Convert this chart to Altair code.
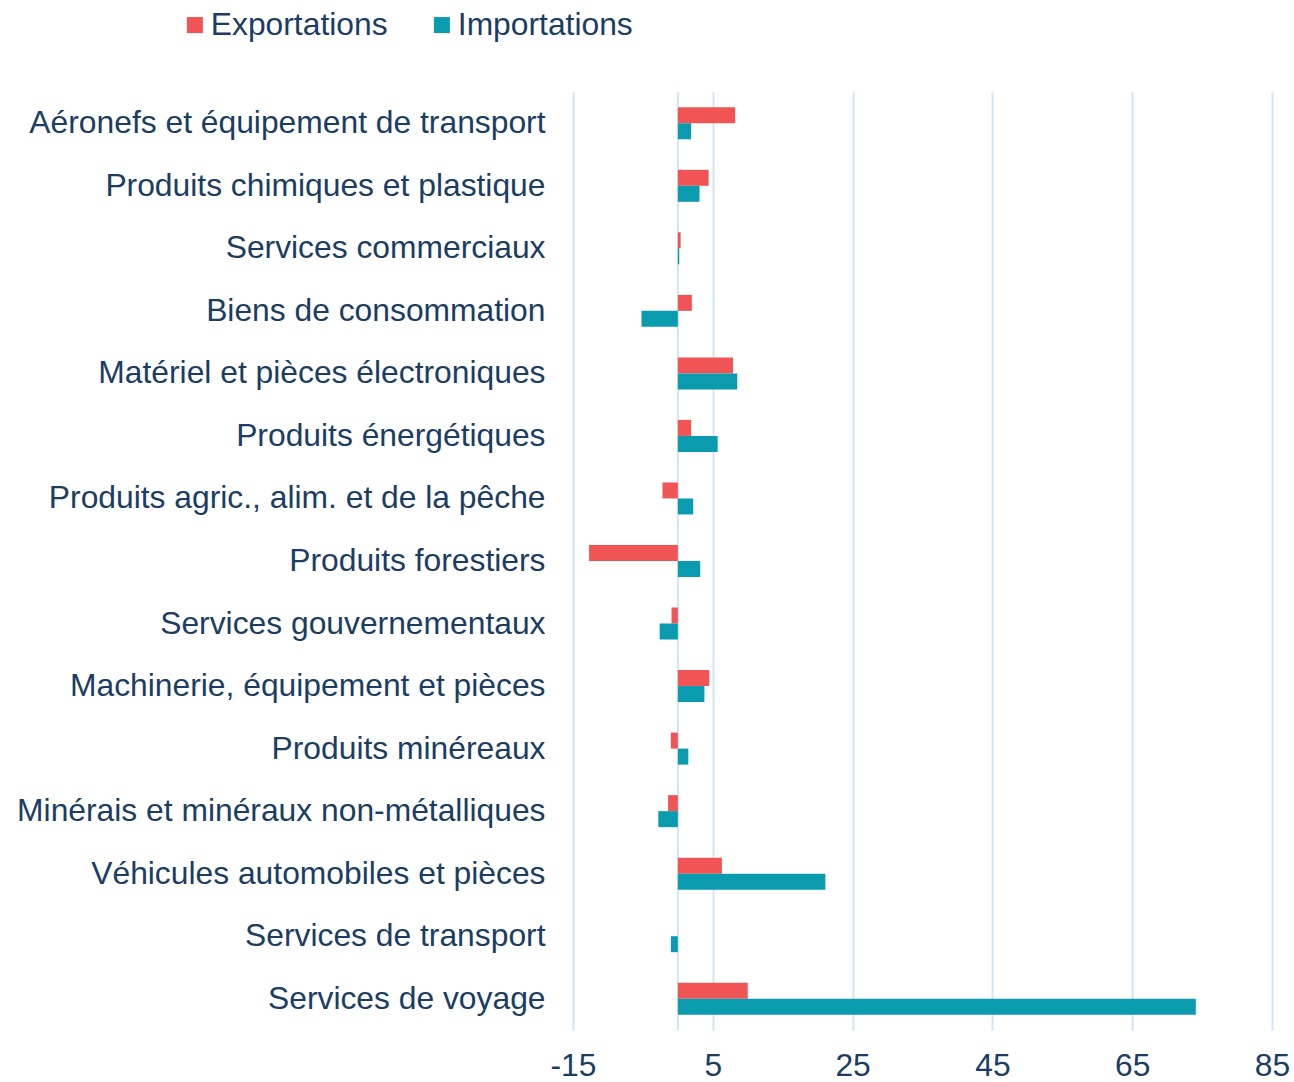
import altair as alt
import pandas as pd

categories = [
    "Aéronefs et équipement de transport",
    "Produits chimiques et plastique",
    "Services commerciaux",
    "Biens de consommation",
    "Matériel et pièces électroniques",
    "Produits énergétiques",
    "Produits agric., alim. et de la pêche",
    "Produits forestiers",
    "Services gouvernementaux",
    "Machinerie, équipement et pièces",
    "Produits minéreaux",
    "Minérais et minéraux non-métalliques",
    "Véhicules automobiles et pièces",
    "Services de transport",
    "Services de voyage",
]
exportations = [8.2, 4.4, 0.4, 2.0, 7.9, 1.9, -2.2, -12.7, -0.9, 4.5, -1.0, -1.4, 6.3, 0.0, 10.0]
importations = [1.9, 3.1, 0.2, -5.2, 8.5, 5.7, 2.2, 3.2, -2.6, 3.8, 1.5, -2.8, 21.1, -1.0, 74.1]
series = ["Exportations", "Importations"]
tick_values = [-15, 5, 25, 45, 65, 85]

rows = []
for c, e, i in zip(categories, exportations, importations):
    rows.append({"cat": c, "serie": series[0], "val": e})
    rows.append({"cat": c, "serie": series[1], "val": i})
df = pd.DataFrame(rows)

navy = "#1B3D63"
grid = "#D3E4F4"
font = "Liberation Sans"
fs = 31.8

bars = alt.Chart(df).mark_bar(size=16).encode(
    y=alt.Y("cat:N", sort=categories,
            scale=alt.Scale(paddingInner=0.488, paddingOuter=0.244),
            axis=alt.Axis(title=None, domain=False, ticks=False, grid=False, labelPadding=28,
                          labelFontSize=fs, labelColor=navy, labelFont=font,
                          labelLimit=800)),
    yOffset=alt.YOffset("serie:N", sort=series, scale=alt.Scale(paddingInner=0, paddingOuter=0)),
    x=alt.X("val:Q", scale=alt.Scale(domain=[-15, 85], nice=False, zero=False),
            axis=alt.Axis(title=None, values=tick_values, domain=False, ticks=False,
                          grid=True, gridColor=grid, gridWidth=2, labelFlush=False,
                          labelExpr="'' + datum.value",
                          labelFontSize=fs, labelColor=navy, labelFont=font,
                          labelPadding=20)),
    color=alt.Color("serie:N", sort=series,
                    scale=alt.Scale(domain=series, range=["#F05454", "#0A9BAF"]),
                    legend=alt.Legend(title=None, orient="none", legendX=-394, legendY=-83,
                                      direction="horizontal", symbolType="square",
                                      symbolSize=256, symbolStrokeWidth=0,
                                      labelFontSize=fs, labelColor=navy, labelFont=font,
                                      labelLimit=400, columnPadding=38, labelOffset=0)),
)

zero = alt.Chart(pd.DataFrame({"x": [0]})).mark_rule(color=grid, strokeWidth=2).encode(x="x:Q")

chart = alt.layer(zero, bars).properties(
    width=699, height=938,
    view=alt.ViewBackground(stroke=None, strokeWidth=0),
    autosize=alt.AutoSizeParams(type="none"),
    padding={"left": 573, "top": 92, "right": 22, "bottom": 52},
).configure_view(strokeWidth=0, stroke=None).configure(background="white")

chart.save("out.html", embed_options={"renderer": "svg", "actions": False})
